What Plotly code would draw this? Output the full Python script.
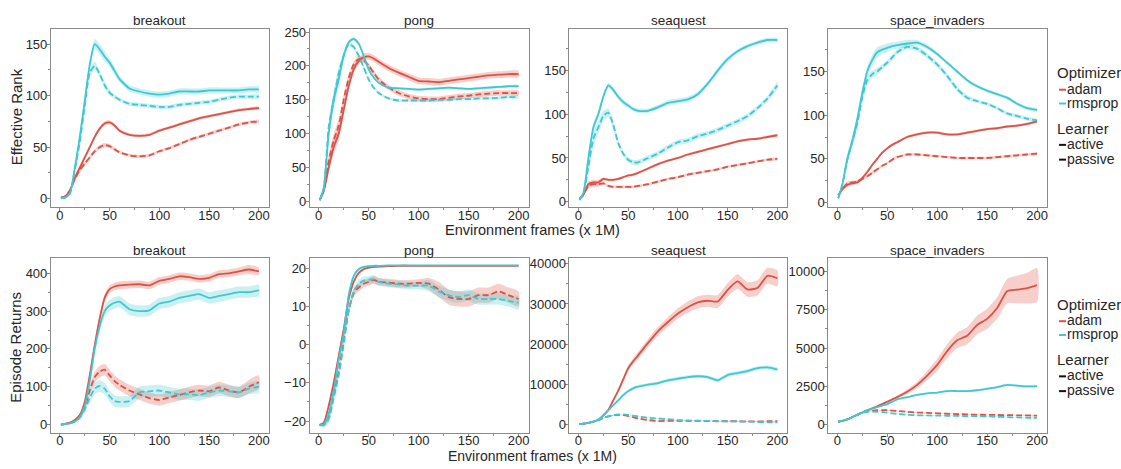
import plotly.graph_objects as go

# ---------------- data ----------------
frames = [1, 5, 10, 15, 20, 25, 30, 35, 40, 45, 50, 55, 60, 70, 80, 90, 100,
          110, 120, 130, 140, 150, 160, 170, 180, 190, 200]
games = ["breakout", "pong", "seaquest", "space_invaders"]
optimizers = ["adam", "rmsprop"]
learners = ["active", "passive"]
x_ticks = [0, 50, 100, 150, 200]

# Effective rank
rank_breakout_adam_active = [1, 2, 8, 20, 30, 40, 50, 60, 68, 73, 74, 71, 66, 62, 61, 62, 66, 69, 72, 75, 78, 80, 82, 84, 86, 87, 88]
rank_breakout_adam_passive = [1, 2, 8, 19, 28, 34, 40, 46, 50, 52, 51, 48, 45, 42, 41, 42, 46, 49, 53, 57, 60, 63, 66, 69, 72, 74, 75]
rank_breakout_rmsprop_active = [1, 1, 5, 30, 60, 95, 130, 150, 145, 138, 132, 124, 116, 107, 104, 102, 101, 102, 104, 104, 104, 105, 105, 105, 105, 106, 106]
rank_breakout_rmsprop_passive = [1, 1, 5, 28, 55, 90, 122, 129, 121, 110, 103, 99, 96, 92, 91, 90, 89, 89, 91, 92, 93, 94, 96, 98, 99, 99, 99]

rank_pong_adam_active = [2, 15, 50, 80, 100, 135, 170, 195, 207, 213, 214, 211, 206, 197, 190, 184, 178, 177, 176, 178, 180, 182, 184, 186, 187, 188, 188]
rank_pong_adam_passive = [2, 18, 60, 90, 112, 150, 182, 202, 210, 208, 200, 190, 180, 168, 160, 155, 152, 151, 151, 153, 155, 156, 158, 159, 160, 160, 160]
rank_pong_rmsprop_active = [2, 20, 100, 150, 180, 215, 235, 240, 233, 215, 195, 183, 175, 168, 167, 166, 165, 166, 167, 168, 167, 166, 167, 168, 169, 170, 170]
rank_pong_rmsprop_passive = [2, 18, 110, 150, 189, 215, 232, 228, 215, 198, 180, 168, 160, 152, 149, 149, 149, 149, 150, 150, 151, 151, 152, 152, 153, 154, 154]

rank_seaquest_adam_active = [3, 8, 20, 22, 22, 26, 25, 25, 26, 28, 30, 31, 33, 38, 43, 47, 50, 54, 57, 60, 63, 66, 69, 71, 72, 74, 76]
rank_seaquest_adam_passive = [3, 8, 18, 20, 20, 21, 18, 17, 17, 17, 17, 17, 18, 20, 23, 26, 28, 31, 33, 35, 37, 40, 42, 44, 46, 48, 49]
rank_seaquest_rmsprop_active = [2, 10, 50, 85, 100, 120, 133, 128, 120, 114, 110, 106, 104, 104, 108, 113, 115, 117, 123, 135, 150, 163, 172, 178, 182, 185, 185]
rank_seaquest_rmsprop_passive = [2, 10, 40, 72, 85, 98, 102, 88, 67, 55, 48, 45, 45, 50, 55, 62, 68, 70, 75, 78, 82, 87, 92, 98, 107, 118, 133]

rank_space_adam_active = [8, 15, 20, 22, 23, 28, 35, 43, 50, 57, 62, 66, 69, 75, 78, 80, 80, 78, 78, 80, 82, 84, 85, 87, 88, 90, 93]
rank_space_adam_passive = [8, 15, 22, 23, 24, 27, 30, 34, 38, 42, 45, 49, 52, 55, 55, 54, 53, 52, 51, 51, 51, 51, 52, 53, 54, 55, 56]
rank_space_rmsprop_active = [5, 20, 50, 70, 95, 125, 150, 163, 172, 175, 177, 179, 180, 182, 183, 178, 170, 160, 150, 140, 133, 128, 124, 120, 113, 108, 106]
rank_space_rmsprop_passive = [5, 20, 48, 70, 90, 120, 140, 147, 150, 155, 160, 166, 172, 178, 176, 168, 158, 145, 130, 120, 116, 113, 108, 102, 99, 96, 94]

# Episode returns
ret_breakout_adam_active = [0, 2, 5, 12, 25, 60, 130, 210, 280, 335, 358, 365, 368, 370, 371, 368, 380, 385, 392, 390, 385, 388, 398, 400, 405, 410, 405]
ret_breakout_adam_passive = [0, 1, 4, 10, 20, 45, 90, 125, 140, 145, 130, 115, 105, 90, 80, 70, 65, 72, 78, 85, 90, 88, 98, 90, 85, 100, 112]
ret_breakout_rmsprop_active = [0, 1, 3, 8, 20, 50, 115, 200, 260, 300, 315, 322, 325, 305, 300, 302, 320, 325, 335, 340, 345, 335, 340, 345, 350, 350, 355]
ret_breakout_rmsprop_passive = [0, 1, 3, 8, 18, 40, 70, 95, 102, 95, 75, 62, 60, 62, 85, 88, 90, 85, 80, 80, 78, 85, 90, 88, 85, 95, 100]

ret_pong_adam_active = [-21, -20.5, -16, -10, -3, 4, 12, 16.5, 18.8, 19.8, 20.2, 20.4, 20.5, 20.6, 20.7, 20.7, 20.7, 20.7, 20.7, 20.7, 20.7, 20.7, 20.7, 20.7, 20.7, 20.7, 20.7]
ret_pong_adam_passive = [-21, -21, -19, -13, -7, 1, 9, 13.5, 15, 16, 16.5, 17, 16.5, 16.3, 16, 16, 16.2, 16, 14.5, 12.5, 12, 12, 13, 13, 14, 13, 12]
ret_pong_rmsprop_active = [-21, -21, -18, -12, -4, 3, 13, 18, 19.8, 20.4, 20.6, 20.7, 20.7, 20.8, 20.8, 20.8, 20.8, 20.8, 20.8, 20.8, 20.8, 20.8, 20.8, 20.8, 20.8, 20.8, 20.8]
ret_pong_rmsprop_passive = [-21, -21, -19.5, -14, -8, 0, 9, 14, 16, 16.8, 17, 17.2, 16.5, 16, 15.8, 15.5, 15.5, 15.5, 14, 13, 12.5, 13, 12, 12, 12, 11.5, 11]

ret_seaquest_adam_active = [100, 200, 400, 700, 1200, 2300, 3600, 6000, 8400, 11200, 14000, 15700, 17200, 20300, 23200, 25500, 27600, 29200, 30400, 30800, 30600, 33500, 35600, 33600, 34000, 37000, 36400]
ret_seaquest_adam_passive = [100, 200, 400, 700, 1100, 1600, 2000, 2300, 2400, 2300, 2100, 1800, 1500, 1100, 850, 900, 900, 900, 900, 850, 800, 800, 800, 750, 750, 800, 800]
ret_seaquest_rmsprop_active = [100, 200, 400, 700, 1200, 2200, 3500, 4800, 6000, 7300, 8300, 9000, 9400, 9900, 10300, 11000, 11400, 11800, 12000, 11800, 11000, 12300, 12800, 13300, 14000, 14200, 13700]
ret_seaquest_rmsprop_passive = [100, 200, 400, 700, 1100, 1600, 2000, 2300, 2500, 2500, 2400, 2200, 2000, 1700, 1500, 1300, 1100, 1000, 950, 900, 850, 800, 750, 700, 600, 550, 500]

ret_space_adam_active = [200, 250, 350, 500, 650, 800, 950, 1080, 1200, 1350, 1500, 1650, 1800, 2150, 2600, 3200, 3900, 4800, 5500, 5800, 6500, 6900, 7600, 8700, 8800, 8900, 9100]
ret_space_adam_passive = [200, 250, 350, 500, 650, 800, 900, 930, 950, 950, 950, 930, 900, 850, 800, 780, 750, 720, 700, 680, 660, 650, 640, 630, 620, 610, 600]
ret_space_rmsprop_active = [200, 250, 350, 500, 650, 800, 950, 1050, 1150, 1250, 1350, 1500, 1650, 1800, 1950, 2050, 2100, 2200, 2200, 2200, 2250, 2350, 2450, 2600, 2550, 2500, 2520]
ret_space_rmsprop_passive = [200, 250, 350, 500, 650, 780, 850, 860, 850, 830, 800, 750, 720, 650, 620, 610, 600, 590, 580, 570, 560, 550, 530, 500, 480, 460, 450]

# Band half-widths (standard error)
sd_rank_breakout_adam_active = [0.5, 1, 1, 2, 3, 2, 2, 2, 2, 2, 2, 2, 1.5, 1.5, 1.5, 1.5, 1.5, 1.5, 1.5, 1.5, 1.5, 1.5, 1.5, 1.5, 1.5, 1.5, 1.5]
sd_rank_breakout_adam_passive = [0.5, 1, 1, 2, 3, 2, 2, 2, 2, 2, 2, 2, 1.5, 1.5, 1.5, 1.5, 1.5, 1.5, 1.5, 1.5, 1.5, 1.5, 1.5, 1.5, 1.5, 1.5, 1.5]
sd_rank_breakout_rmsprop_active = [0.5, 0.5, 1, 3, 4, 5, 5, 5, 5, 5, 4, 4, 3, 3, 3, 3, 3, 3, 3, 3, 3, 3, 3, 3, 3, 3, 3]
sd_rank_breakout_rmsprop_passive = [0.5, 0.5, 1, 3, 4, 5, 4, 4, 3, 3, 3, 2, 2, 2, 2, 2, 2, 2, 2, 2, 2, 2, 2, 2, 2, 2, 2]

sd_rank_pong_adam_active = [1, 4, 8, 10, 10, 8, 6, 5, 5, 5, 5, 5, 5, 5, 5, 5, 5, 5, 5, 5, 5, 5, 5, 5, 5, 5, 5]
sd_rank_pong_adam_passive = [1, 4, 8, 10, 10, 8, 6, 5, 5, 4, 4, 4, 4, 4, 4, 4, 4, 4, 4, 4, 4, 4, 4, 4, 4, 4, 4]
sd_rank_pong_rmsprop_active = [1, 4, 10, 12, 10, 6, 3, 3, 3, 3, 3, 2, 2, 2, 2, 2, 2, 2, 2, 2, 2, 2, 2, 2, 2, 2, 2]
sd_rank_pong_rmsprop_passive = [1, 4, 10, 12, 10, 6, 3, 3, 3, 3, 3, 2, 2, 2, 2, 2, 2, 2, 2, 2, 2, 2, 2, 2, 2, 2, 2]

sd_rank_seaquest_adam_active = [1, 2, 3, 3, 3, 2, 1.5, 1.5, 1.5, 1.5, 1.5, 1.5, 1.5, 1.5, 1.5, 1.5, 1.5, 1.5, 1.5, 1.5, 1.5, 1.5, 1.5, 1.5, 1.5, 1.5, 1.5]
sd_rank_seaquest_adam_passive = [1, 2, 3, 3, 3, 2, 1.5, 1.5, 1.5, 1.5, 1.5, 1.5, 1.5, 1.5, 1.5, 1.5, 1.5, 1.5, 1.5, 1.5, 1.5, 1.5, 1.5, 1.5, 1.5, 1.5, 1.5]
sd_rank_seaquest_rmsprop_active = [1, 2, 4, 5, 5, 4, 3, 3, 3, 3, 3, 2.5, 2.5, 2.5, 2.5, 3, 3, 3, 3, 3, 3, 3, 2.5, 2.5, 2.5, 2.5, 2.5]
sd_rank_seaquest_rmsprop_passive = [1, 2, 6, 8, 7, 6, 5, 5, 4, 3, 3, 3, 3, 3, 3, 3, 3, 3, 3, 3, 3, 3, 3, 3, 3, 3, 4]

sd_rank_space_adam_active = [1, 2, 2, 2, 2, 2, 2, 2, 1.5, 1.5, 1.5, 1.5, 1.5, 1.5, 1.5, 1.5, 1.5, 1.5, 1.5, 1.5, 1.5, 1.5, 1.5, 1.5, 1.5, 1.5, 1.5]
sd_rank_space_adam_passive = [1, 2, 2, 2, 2, 2, 2, 2, 1.5, 1.5, 1.5, 1.5, 1.5, 1.5, 1.5, 1.5, 1.5, 1.5, 1.5, 1.5, 1.5, 1.5, 1.5, 1.5, 1.5, 1.5, 1.5]
sd_rank_space_rmsprop_active = [1, 3, 5, 6, 6, 6, 6, 6, 6, 5, 5, 4, 4, 4, 3, 3, 2, 2, 2, 2, 2, 2, 2, 2, 2, 2, 2]
sd_rank_space_rmsprop_passive = [1, 3, 5, 6, 6, 5, 5, 4, 4, 3, 3, 3, 3, 3, 3, 3, 3, 3, 3, 3, 2, 2, 2, 2, 2, 2, 2]

sd_ret_breakout_adam_active = [0, 1, 2, 3, 5, 8, 10, 10, 10, 10, 10, 10, 10, 10, 10, 10, 10, 10, 10, 10, 10, 10, 10, 10, 10, 12, 10]
sd_ret_breakout_adam_passive = [0, 1, 2, 3, 5, 8, 12, 15, 15, 15, 15, 15, 15, 15, 15, 15, 15, 15, 15, 15, 15, 15, 15, 15, 15, 18, 18]
sd_ret_breakout_rmsprop_active = [0, 1, 2, 3, 5, 8, 12, 15, 15, 15, 15, 15, 15, 15, 15, 15, 15, 15, 15, 15, 15, 15, 15, 15, 15, 15, 15]
sd_ret_breakout_rmsprop_passive = [0, 1, 2, 3, 5, 8, 12, 15, 15, 15, 15, 15, 15, 15, 15, 15, 15, 15, 15, 15, 15, 15, 15, 15, 15, 15, 15]

sd_ret_pong_adam_active = [0.3, 0.5, 1, 1, 1, 1, 0.8, 0.5, 0.4, 0.3, 0.2, 0.2, 0.2, 0.1, 0.1, 0.1, 0.1, 0.1, 0.1, 0.1, 0.1, 0.1, 0.1, 0.1, 0.1, 0.1, 0.1]
sd_ret_pong_adam_passive = [0.3, 0.5, 1, 1, 1, 1, 1, 1, 1, 1, 1, 1, 1, 1, 1, 1, 1, 1.5, 2, 2, 2, 2, 2, 2, 2, 2, 2]
sd_ret_pong_rmsprop_active = [0.3, 0.5, 1, 1, 1, 1, 0.8, 0.5, 0.4, 0.3, 0.2, 0.2, 0.2, 0.1, 0.1, 0.1, 0.1, 0.1, 0.1, 0.1, 0.1, 0.1, 0.1, 0.1, 0.1, 0.1, 0.1]
sd_ret_pong_rmsprop_passive = [0.3, 0.5, 1, 1, 1, 1, 1, 1, 1, 1, 1, 1, 1, 1, 1, 1, 1, 1.5, 1.5, 1.5, 1.5, 1.5, 1.5, 1.5, 1.5, 1.5, 1.8]

sd_ret_seaquest_adam_active = [50, 50, 80, 100, 150, 200, 300, 400, 500, 600, 700, 800, 900, 1000, 1100, 1200, 1300, 1400, 1500, 1500, 1600, 1700, 1800, 1800, 1900, 2000, 2000]
sd_ret_seaquest_adam_passive = [50, 50, 80, 100, 100, 100, 100, 100, 100, 100, 100, 100, 100, 100, 100, 100, 100, 100, 100, 100, 100, 100, 100, 100, 100, 100, 100]
sd_ret_seaquest_rmsprop_active = [50, 50, 80, 100, 150, 200, 250, 300, 350, 400, 400, 400, 400, 400, 400, 450, 450, 450, 450, 450, 500, 500, 500, 500, 500, 500, 500]
sd_ret_seaquest_rmsprop_passive = [50, 50, 80, 100, 100, 100, 100, 100, 100, 100, 100, 100, 100, 100, 100, 100, 100, 100, 100, 100, 100, 100, 100, 100, 100, 100, 100]

sd_ret_space_adam_active = [30, 30, 30, 40, 40, 50, 50, 50, 60, 60, 70, 80, 100, 150, 200, 300, 400, 450, 500, 550, 600, 650, 700, 800, 900, 1000, 1100]
sd_ret_space_adam_passive = [30, 30, 30, 30, 30, 30, 30, 30, 30, 30, 30, 30, 30, 30, 30, 30, 30, 30, 30, 30, 30, 30, 30, 30, 30, 30, 30]
sd_ret_space_rmsprop_active = [30, 30, 30, 40, 40, 40, 40, 40, 40, 40, 50, 50, 50, 50, 60, 60, 60, 60, 60, 60, 70, 70, 80, 80, 80, 80, 80]
sd_ret_space_rmsprop_passive = [30, 30, 30, 30, 30, 30, 30, 30, 30, 30, 30, 30, 30, 30, 30, 30, 30, 30, 30, 30, 30, 30, 30, 30, 30, 30, 30]

rank_series = {
    "breakout": [rank_breakout_adam_active, rank_breakout_adam_passive, rank_breakout_rmsprop_active, rank_breakout_rmsprop_passive],
    "pong": [rank_pong_adam_active, rank_pong_adam_passive, rank_pong_rmsprop_active, rank_pong_rmsprop_passive],
    "seaquest": [rank_seaquest_adam_active, rank_seaquest_adam_passive, rank_seaquest_rmsprop_active, rank_seaquest_rmsprop_passive],
    "space_invaders": [rank_space_adam_active, rank_space_adam_passive, rank_space_rmsprop_active, rank_space_rmsprop_passive],
}
rank_sds = {
    "breakout": [sd_rank_breakout_adam_active, sd_rank_breakout_adam_passive, sd_rank_breakout_rmsprop_active, sd_rank_breakout_rmsprop_passive],
    "pong": [sd_rank_pong_adam_active, sd_rank_pong_adam_passive, sd_rank_pong_rmsprop_active, sd_rank_pong_rmsprop_passive],
    "seaquest": [sd_rank_seaquest_adam_active, sd_rank_seaquest_adam_passive, sd_rank_seaquest_rmsprop_active, sd_rank_seaquest_rmsprop_passive],
    "space_invaders": [sd_rank_space_adam_active, sd_rank_space_adam_passive, sd_rank_space_rmsprop_active, sd_rank_space_rmsprop_passive],
}
ret_series = {
    "breakout": [ret_breakout_adam_active, ret_breakout_adam_passive, ret_breakout_rmsprop_active, ret_breakout_rmsprop_passive],
    "pong": [ret_pong_adam_active, ret_pong_adam_passive, ret_pong_rmsprop_active, ret_pong_rmsprop_passive],
    "seaquest": [ret_seaquest_adam_active, ret_seaquest_adam_passive, ret_seaquest_rmsprop_active, ret_seaquest_rmsprop_passive],
    "space_invaders": [ret_space_adam_active, ret_space_adam_passive, ret_space_rmsprop_active, ret_space_rmsprop_passive],
}
ret_sds = {
    "breakout": [sd_ret_breakout_adam_active, sd_ret_breakout_adam_passive, sd_ret_breakout_rmsprop_active, sd_ret_breakout_rmsprop_passive],
    "pong": [sd_ret_pong_adam_active, sd_ret_pong_adam_passive, sd_ret_pong_rmsprop_active, sd_ret_pong_rmsprop_passive],
    "seaquest": [sd_ret_seaquest_adam_active, sd_ret_seaquest_adam_passive, sd_ret_seaquest_rmsprop_active, sd_ret_seaquest_rmsprop_passive],
    "space_invaders": [sd_ret_space_adam_active, sd_ret_space_adam_passive, sd_ret_space_rmsprop_active, sd_ret_space_rmsprop_passive],
}

rank_ranges = {"breakout": [-8, 165], "pong": [-8, 255], "seaquest": [-6, 198], "space_invaders": [-5, 199]}
rank_dtick = {"breakout": 50, "pong": 50, "seaquest": 50, "space_invaders": 50}
ret_ranges = {"breakout": [-21, 440], "pong": [-23, 22.7], "seaquest": [-2000, 41400], "space_invaders": [-500, 10850]}
ret_dtick = {"breakout": 100, "pong": 10, "seaquest": 10000, "space_invaders": 2500}

# ---------------- style ----------------
W, H = 1121, 469
RED = "#DD5246"
CYAN = "#3FC8D2"
RED_F = "rgba(221,82,70,0.28)"
CYAN_F = "rgba(63,200,210,0.28)"
AXIS = "#8a8a8a"
TXT = "#262626"
FONT = "Liberation Sans, Arial, sans-serif"

col_px = [(51, 269), (310, 529), (570, 788), (829, 1048)]
row_px = [(25, 206), (258, 435)]

def px_x(p):
    return p / W

def px_y(p):
    return 1 - p / H

fig = go.Figure()
styles = [(RED, RED_F, "solid"), (RED, RED_F, "6px,3px"),
          (CYAN, CYAN_F, "solid"), (CYAN, CYAN_F, "6px,3px")]

annotations = []
shapes = []
idx = 0
for r, (series, sds, ranges, dticks) in enumerate([
        (rank_series, rank_sds, rank_ranges, rank_dtick),
        (ret_series, ret_sds, ret_ranges, ret_dtick)]):
    for c, g in enumerate(games):
        idx += 1
        xa = "x" if idx == 1 else f"x{idx}"
        ya = "y" if idx == 1 else f"y{idx}"
        for k, (col, fcol, dash) in enumerate(styles):
            ys = series[g][k]
            sd = sds[g][k]
            up = [a + b for a, b in zip(ys, sd)]
            lo = [a - b for a, b in zip(ys, sd)]
            fig.add_trace(go.Scatter(
                x=frames + frames[::-1], y=up + lo[::-1], fill="toself",
                fillcolor=fcol, line=dict(width=0, shape="spline", smoothing=0.6),
                mode="lines", hoverinfo="skip", showlegend=False,
                xaxis=xa, yaxis=ya))
        for k, (col, fcol, dash) in enumerate(styles):
            ys = series[g][k]
            fig.add_trace(go.Scatter(
                x=frames, y=ys, mode="lines",
                line=dict(color=col, width=1.8, dash=dash, shape="spline", smoothing=0.6),
                showlegend=False, xaxis=xa, yaxis=ya,
                name=f"{optimizers[k // 2]} {learners[k % 2]}"))
        x0, x1 = col_px[c]
        y0, y1 = row_px[r]
        common = dict(showline=True, mirror=True, linecolor=AXIS, linewidth=1,
                      ticks="outside", ticklen=3, tickwidth=1, tickcolor=AXIS,
                      showgrid=False, zeroline=False,
                      tickfont=dict(family=FONT, size=13, color=TXT))
        fig.layout[("xaxis" if idx == 1 else f"xaxis{idx}")] = dict(
            domain=[px_x(x0), px_x(x1)], anchor=ya, range=[-9, 210],
            tickvals=x_ticks, ticktext=[str(v) for v in x_ticks],
            ticklabelstandoff=-7,
            minor=dict(ticks="outside", ticklen=2, dtick=25, tick0=0, tickcolor=AXIS),
            **common)
        lo_r, hi_r = ranges[g]
        fig.layout[("yaxis" if idx == 1 else f"yaxis{idx}")] = dict(
            domain=[px_y(y1), px_y(y0)], anchor=xa, range=[lo_r, hi_r],
            dtick=dticks[g], tick0=0, tickformat="d", ticklabelstandoff=-3,
            minor=dict(ticks="outside", ticklen=2, dtick=dticks[g] / 2, tick0=0, tickcolor=AXIS),
            **common)
        annotations.append(dict(text=g, x=px_x((x0 + x1) / 2), y=px_y(y0 - 8),
                                xref="paper", yref="paper", showarrow=False,
                                xanchor="center", yanchor="middle",
                                font=dict(family=FONT, size=13.5, color=TXT)))

# axis titles
for text, yc in [("Effective Rank", 114), ("Episode Returns", 348)]:
    annotations.append(dict(text=text, x=px_x(16), y=px_y(yc), xref="paper", yref="paper",
                            showarrow=False, textangle=-90, xanchor="center", yanchor="middle",
                            font=dict(family=FONT, size=15, color=TXT)))
annotations.append(dict(text="Environment frames (x 1M)", x=px_x(533), y=px_y(229),
                        xref="paper", yref="paper", showarrow=False,
                        xanchor="center", yanchor="middle",
                        font=dict(family=FONT, size=14.5, color=TXT)))
annotations.append(dict(text="Environment frames (x 1M)", x=px_x(533), y=0,
                        xref="paper", yref="paper", showarrow=False,
                        xanchor="center", yanchor="bottom",
                        font=dict(family=FONT, size=14, color=TXT)))

# legends (one beside each row)
for top in [70, 305]:
    items = [("Optimizer", None, 0, 15), ("adam", RED, 16, 14), ("rmsprop", CYAN, 30, 14),
             ("Learner", None, 56, 15), ("active", "#111111", 72, 14), ("passive", "#111111", 87, 14)]
    for text, col, dy, fs in items:
        yc = top + dy
        if col is None:
            annotations.append(dict(text=text, x=px_x(1056), y=px_y(yc), xref="paper", yref="paper",
                                    showarrow=False, xanchor="left", yanchor="middle",
                                    font=dict(family=FONT, size=fs, color=TXT)))
        else:
            shapes.append(dict(type="line", xref="paper", yref="paper",
                               x0=px_x(1060), x1=px_x(1067), y0=px_y(yc + 1), y1=px_y(yc + 1),
                               line=dict(color=col, width=2)))
            annotations.append(dict(text=text, x=px_x(1066), y=px_y(yc), xref="paper", yref="paper",
                                    showarrow=False, xanchor="left", yanchor="middle",
                                    font=dict(family=FONT, size=fs, color=TXT)))

fig.update_layout(width=W, height=H, margin=dict(l=0, r=0, t=0, b=0),
                  paper_bgcolor="white", plot_bgcolor="white",
                  showlegend=False, annotations=annotations, shapes=shapes,
                  font=dict(family=FONT, color=TXT))
fig.write_html("out.html")
